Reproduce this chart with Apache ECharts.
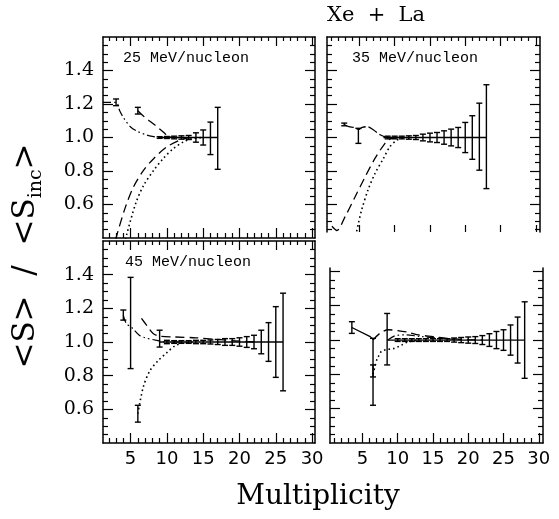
<!DOCTYPE html>
<html><head><meta charset="utf-8">
<script src="https://cdn.jsdelivr.net/npm/echarts@6/dist/echarts.min.js"></script>
<style>html,body{margin:0;padding:0;background:#fff}#c{width:559px;height:519px}</style>
</head><body><div id="c"></div>
<script>
// ---------- tick values ----------
const xMajor = [5, 10, 15, 20, 25, 30];
const xMinor = [1, 2, 3, 4, 6, 7, 8, 9, 11, 12, 13, 14, 16, 17, 18, 19, 21, 22, 23, 24, 26, 27, 28, 29];
const yMajor = [0.6, 0.8, 1.0, 1.2, 1.4];
const yMinor = [0.45, 0.5, 0.55, 0.65, 0.7, 0.75, 0.85, 0.9, 0.95, 1.05, 1.1, 1.15, 1.25, 1.3, 1.35, 1.45, 1.5, 1.55];

// ---------- 25 MeV/nucleon ----------
const p25_ptsX = [3, 6, 9, 10, 11, 12, 13, 14, 15, 16, 17];
const p25_ptsY = [1.21, 1.16, 1.0, 1.0, 1.0, 1.0, 1.0, 1.0, 1.0, 0.995, 0.995];
const p25_ptsE = [0.02, 0.02, 0.005, 0.006, 0.008, 0.01, 0.012, 0.028, 0.045, 0.097, 0.185];
const p25_solidX = [9, 17];
const p25_solidY = [1.0, 1.0];
const p25_dashDotX = [1.2, 3, 3.5, 4, 5, 6, 7, 8, 9, 12];
const p25_dashDotY = [1.21, 1.21, 1.16, 1.12, 1.063, 1.035, 1.018, 1.007, 1.0, 1.0];
const p25_dashUpX = [6, 6.8, 8.4, 9.5, 10.2, 11];
const p25_dashUpY = [1.16, 1.127, 1.073, 1.033, 1.007, 1.0];
const p25_dashLowX = [2.95, 3.17, 4.3, 5.4, 6.8, 8.2, 10, 11.8, 13, 14];
const p25_dashLowY = [0.39, 0.427, 0.586, 0.705, 0.805, 0.875, 0.944, 0.984, 0.998, 1.0];
const p25_dotLowX = [4.3, 4.5, 5.7, 6.8, 8.2, 9.5, 10.9, 12.3, 13.5, 15];
const p25_dotLowY = [0.39, 0.427, 0.606, 0.715, 0.805, 0.875, 0.934, 0.974, 0.993, 1.0];

// ---------- 35 MeV/nucleon ----------
const p35_ptsX = [2.84, 4.85, 9, 10, 11, 12, 13, 14, 15, 16, 17, 18, 19, 20, 21, 22, 23];
const p35_ptsY = [1.078, 1.01, 1.0, 1.0, 1.0, 1.0, 1.0, 1.0, 1.0, 1.0, 1.0, 1.0, 1.0, 1.0, 1.0, 1.005, 1.005];
const p35_ptsE = [0.008, 0.045, 0.008, 0.008, 0.008, 0.01, 0.012, 0.02, 0.026, 0.03, 0.04, 0.05, 0.06, 0.09, 0.13, 0.2, 0.31];
const p35_solidX = [8.4, 23];
const p35_solidY = [1.0, 1.0];
const p35_upperX = [2.84, 3.5, 4.3, 4.85, 5.4, 6.1, 7, 8, 9];
const p35_upperY = [1.078, 1.065, 1.06, 1.048, 1.06, 1.065, 1.045, 1.015, 1.0];
const p35_dashLowX = [1.1, 1.8, 2.95, 4.37, 5.8, 7.2, 8.6, 9.3, 10.2];
const p35_dashLowY = [0.47, 0.445, 0.526, 0.645, 0.765, 0.875, 0.964, 0.99, 1.0];
const p35_dotLowX = [4.6, 4.85, 5.3, 6.2, 7.2, 8.4, 9.3, 10.3, 11.5];
const p35_dotLowY = [0.44, 0.487, 0.566, 0.685, 0.785, 0.875, 0.944, 0.984, 1.0];

// ---------- 45 MeV/nucleon ----------
const p45_ptsX = [4, 5, 6, 9, 10, 11, 12, 13, 14, 15, 16, 17, 18, 19, 20, 21, 22, 23, 24, 25, 26];
const p45_ptsY = [1.16, 1.113, 0.574, 1.02, 1.0, 1.0, 1.0, 1.0, 1.0, 1.0, 1.0, 1.0, 1.0, 1.0, 1.0, 1.0, 1.0, 1.0, 1.0, 1.0, 1.0];
const p45_ptsE = [0.03, 0.271, 0.05, 0.05, 0.01, 0.008, 0.008, 0.008, 0.01, 0.01, 0.012, 0.015, 0.02, 0.02, 0.025, 0.032, 0.04, 0.07, 0.115, 0.21, 0.29];
const p45_solidX = [9, 26];
const p45_solidY = [1.0, 1.0];
const p45_dashDotX = [4, 4.4, 5.15, 6.2, 7, 8.6, 10, 12];
const p45_dashDotY = [1.16, 1.11, 1.086, 1.04, 1.025, 1.01, 1.0, 1.0];
const p45_dashUpX = [6.5, 7.2, 8.1, 9, 11, 14, 17, 20, 22];
const p45_dashUpY = [1.14, 1.1, 1.05, 1.035, 1.03, 1.025, 1.015, 1.005, 1.0];
const p45_dotX = [6, 6.75, 7.67, 8.8, 10, 11.1, 12.3, 13.5];
const p45_dotY = [0.574, 0.733, 0.83, 0.889, 0.937, 0.977, 0.995, 1.0];

// ---------- fourth panel (bottom right) ----------
const p4_ptsX = [3.5, 6.5, 6.5, 8.5, 10, 11, 12, 13, 14, 15, 16, 17, 18, 19, 20, 21, 22, 23, 24, 25, 26, 27, 28];
const p4_ptsY = [1.073, 0.815, 0.82, 1.005, 1.0, 1.0, 1.0, 1.0, 1.0, 1.0, 1.0, 1.0, 1.0, 1.0, 1.0, 1.0, 1.0, 1.0, 1.0, 1.0, 1.0, 1.0, 1.0];
const p4_ptsE = [0.034, 0.195, 0.035, 0.15, 0.008, 0.008, 0.008, 0.008, 0.008, 0.008, 0.008, 0.008, 0.012, 0.015, 0.018, 0.02, 0.026, 0.037, 0.05, 0.06, 0.088, 0.134, 0.223];
const p4_solidAX = [3.5, 6.1, 6.5];
const p4_solidAY = [1.073, 1.02, 1.005];
const p4_solidX = [8.5, 28];
const p4_solidY = [1.0, 1.0];
const p4_dotX = [6.5, 7.1, 7.4, 7.7, 8.5, 9.4, 10.5, 11.5, 13];
const p4_dotY = [0.8, 0.894, 0.913, 0.935, 0.945, 0.95, 0.97, 0.99, 1.0];
const p4_dashX = [6.5, 7.5, 8.7, 10, 11.5, 13, 15, 17, 20, 22];
const p4_dashY = [1.0, 1.04, 1.06, 1.055, 1.045, 1.03, 1.02, 1.01, 1.003, 1.0];
const p4_dashDotX = [8.6, 9.6, 11, 13, 16, 19];
const p4_dashDotY = [1.0, 1.025, 1.03, 1.022, 1.01, 1.002];

// ---------- texts ----------
const titleText = 'Xe + La';
const xTitle = 'Multiplicity';
const panelLabels = ['25 MeV/nucleon', '35 MeV/nucleon', '45 MeV/nucleon'];

// ---------- layout ----------
const BLACK = '#000';
const panels = [
  { grid: {left: 103, top: 37, width: 212, height: 201}, xr: [1.2, 30.4], yr: [0.4, 1.6],
    bottom: {line: true, major: true, minor: true, labels: false}, top: {line: true, major: true, minor: true},
    yLabels: true },
  { grid: {left: 327, top: 37, width: 213, height: 195}, xr: [0.4, 30.6], yr: [0.436, 1.6],
    bottom: {line: false, major: true, minor: false, labels: false, len: 7}, top: {line: true, major: true, minor: true},
    yLabels: false },
  { grid: {left: 103, top: 241, width: 212, height: 202}, xr: [1.2, 30.4], yr: [0.4, 1.6],
    bottom: {line: true, major: true, minor: true, labels: true}, top: {line: true, major: true, minor: true},
    yLabels: true },
  { grid: {left: 330, top: 268, width: 213, height: 175}, xr: [0.4, 30.6], yr: [0.4, 1.42],
    bottom: {line: true, major: true, minor: true, labels: true}, top: {line: false, major: false, minor: false},
    yLabels: false }
];

const zip = (xs, ys) => xs.map((x, i) => [x, ys[i]]);
const zip3 = (xs, ys, es) => xs.map((x, i) => [x, ys[i], es[i]]);
const within = (r) => (v) => v > r[0] + 1e-6 && v < r[1] - 1e-6;

const grids = [], xAxes = [], yAxes = [];
panels.forEach((p, gi) => {
  grids.push(Object.assign({outerBoundsMode: 'none', containLabel: false}, p.grid));
  const inX = within(p.xr), inY = within(p.yr);
  const xmj = xMajor.filter(inX), xmn = xMinor.filter(inX);
  const ymj = yMajor.filter(inY), ymn = yMinor.filter(inY);
  const mk = (kind, pos, line, ticks, len, labels) => {
    const ax = {
      type: 'value', gridIndex: gi, position: pos,
      min: kind === 'x' ? p.xr[0] : p.yr[0], max: kind === 'x' ? p.xr[1] : p.yr[1],
      splitLine: {show: false},
      axisLine: {show: line, onZero: false, lineStyle: {color: BLACK, width: 1.5}},
      axisTick: {show: ticks.length > 0, inside: true, length: len, customValues: ticks.length ? ticks : undefined,
                 lineStyle: {color: BLACK, width: 1.2}},
      axisLabel: {show: false}
    };
    if (labels) {
      if (kind === 'x') {
        ax.axisLabel = {show: true, customValues: xmj, margin: 7, color: BLACK,
          fontFamily: 'DejaVu Sans', fontSize: 18, formatter: (v) => String(Math.round(v))};
      } else {
        ax.axisLabel = {show: true, customValues: ymj, margin: 9, color: BLACK,
          fontFamily: 'DejaVu Serif', fontSize: 19, formatter: (v) => v.toFixed(1)};
      }
    }
    return ax;
  };
  const b = p.bottom, t = p.top;
  xAxes.push(mk('x', 'bottom', b.line, b.major ? xmj : [], b.len || 10, b.labels));
  xAxes.push(mk('x', 'bottom', false, b.minor ? xmn : [], 5, false));
  xAxes.push(mk('x', 'top', t.line, t.major ? xmj : [], 9, false));
  xAxes.push(mk('x', 'top', false, t.minor ? xmn : [], 4, false));
  yAxes.push(mk('y', 'left', true, ymj, 10, p.yLabels));
  yAxes.push(mk('y', 'left', false, ymn, 5, false));
  yAxes.push(mk('y', 'right', true, ymj, 10, false));
  yAxes.push(mk('y', 'right', false, ymn, 5, false));
});

const SOLID = {type: 'solid', width: 1.3};
const DASH = {type: [9, 5], width: 1.3};
const DASH_SHORT = {type: [10, 3], width: 1.3};
const DOT = {type: [1.6, 3], width: 1.6};
const DASHDOT = {type: [8, 3, 1.6, 3, 1.6, 3], width: 1.2};

function line(gi, xs, ys, style, smooth) {
  return {type: 'line', xAxisIndex: gi * 4, yAxisIndex: gi * 4, data: zip(xs, ys),
    showSymbol: false, symbol: 'none', smooth: smooth, clip: true, silent: true,
    lineStyle: Object.assign({color: BLACK}, style)};
}
function errs(gi, xs, ys, es) {
  return {type: 'custom', xAxisIndex: gi * 4, yAxisIndex: gi * 4, data: zip3(xs, ys, es), clip: true, silent: true, z: 3,
    renderItem: (params, api) => {
      const x = api.value(0), y = api.value(1), e = api.value(2);
      const tp = api.coord([x, y + e]), bt = api.coord([x, y - e]);
      const w = 3, st = {stroke: BLACK, lineWidth: 1.4};
      return {type: 'group', children: [
        {type: 'line', shape: {x1: tp[0], y1: tp[1], x2: bt[0], y2: bt[1]}, style: st},
        {type: 'line', shape: {x1: tp[0] - w, y1: tp[1], x2: tp[0] + w, y2: tp[1]}, style: st},
        {type: 'line', shape: {x1: bt[0] - w, y1: bt[1], x2: bt[0] + w, y2: bt[1]}, style: st}
      ]};
    }};
}

const series = [
  errs(0, p25_ptsX, p25_ptsY, p25_ptsE),
  line(0, p25_solidX, p25_solidY, SOLID, false),
  line(0, p25_dashDotX, p25_dashDotY, DASHDOT, 0.3),
  line(0, p25_dashUpX, p25_dashUpY, DASH, 0.3),
  line(0, p25_dashLowX, p25_dashLowY, DASH, 0.3),
  line(0, p25_dotLowX, p25_dotLowY, DOT, 0.3),

  errs(1, p35_ptsX, p35_ptsY, p35_ptsE),
  line(1, p35_solidX, p35_solidY, SOLID, false),
  line(1, p35_upperX, p35_upperY, DASH_SHORT, 0.3),
  line(1, p35_dashLowX, p35_dashLowY, DASH, 0.3),
  line(1, p35_dotLowX, p35_dotLowY, DOT, 0.3),

  errs(2, p45_ptsX, p45_ptsY, p45_ptsE),
  line(2, p45_solidX, p45_solidY, SOLID, false),
  line(2, p45_dashDotX, p45_dashDotY, DASHDOT, 0.3),
  line(2, p45_dashUpX, p45_dashUpY, DASH, 0.3),
  line(2, p45_dotX, p45_dotY, DOT, 0.3),

  errs(3, p4_ptsX, p4_ptsY, p4_ptsE),
  line(3, p4_solidAX, p4_solidAY, SOLID, false),
  line(3, p4_solidX, p4_solidY, SOLID, false),
  line(3, p4_dotX, p4_dotY, DOT, 0.3),
  line(3, p4_dashX, p4_dashY, DASH, 0.3),
  line(3, p4_dashDotX, p4_dashDotY, DASHDOT, 0.3)
];

const graphic = [
  {type: 'text', x: 376, y: 16, style: {text: titleText.replace(/ /g, '  '), fontFamily: 'DejaVu Serif', fontSize: 21, fill: BLACK, align: 'center', verticalAlign: 'middle'}},
  {type: 'text', x: 318, y: 497, style: {text: xTitle, fontFamily: 'DejaVu Serif', fontSize: 28, fill: BLACK, align: 'center', verticalAlign: 'middle'}},
  {type: 'text', x: 26, y: 256, rotation: Math.PI / 2, style: {
    text: '{a|<S>  /  <S}{b|inc}{a|>}', align: 'center', verticalAlign: 'middle', fill: BLACK,
    rich: {a: {fontFamily: 'DejaVu Serif', fontSize: 31, lineHeight: 40, fill: BLACK},
           b: {fontFamily: 'DejaVu Serif', fontSize: 19, lineHeight: 21, verticalAlign: 'bottom', fill: BLACK}}}},
  {type: 'text', x: 123, y: 58, style: {text: panelLabels[0], fontFamily: 'Liberation Mono', fontSize: 15, fill: BLACK, align: 'left', verticalAlign: 'middle'}},
  {type: 'text', x: 352, y: 58, style: {text: panelLabels[1], fontFamily: 'Liberation Mono', fontSize: 15, fill: BLACK, align: 'left', verticalAlign: 'middle'}},
  {type: 'text', x: 125, y: 262, style: {text: panelLabels[2], fontFamily: 'Liberation Mono', fontSize: 15, fill: BLACK, align: 'left', verticalAlign: 'middle'}}
];

const chart = echarts.init(document.getElementById('c'), null, {renderer: 'canvas'});
chart.setOption({
  animation: false,
  backgroundColor: '#fff',
  grid: grids, xAxis: xAxes, yAxis: yAxes,
  series: series, graphic: graphic
});
</script></body></html>
